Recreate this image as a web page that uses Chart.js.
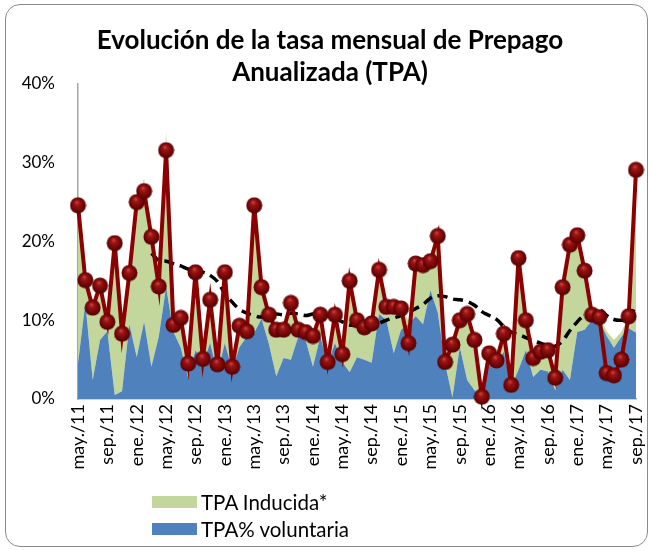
<!DOCTYPE html>
<html lang="es">
<head>
  <meta charset="UTF-8">
  <title>Evolución de la tasa mensual de Prepago Anualizada (TPA)</title>
  <style>
    body {
      margin: 0;
      width: 651px;
      height: 550px;
      overflow: hidden;
      background: #fff;
      font-family: Lato, "Open Sans", sans-serif;
      position: relative;
    }
    .frame {
      position: absolute;
      left: 5px;
      top: 4px;
      width: 641px;
      height: 541px;
      border: 1px solid #8a8a8a;
      border-radius: 15px;
    }
    .chart-box {
      position: absolute;
      left: 0;
      top: 0;
      width: 651px;
      height: 550px;
    }
    .title {
      position: absolute;
      left: 0;
      width: 660px;
      top: 23px;
      text-align: center;
      font-weight: bold;
      font-size: 26px;
      line-height: 32px;
      color: #000;
    }
    .legend {
      position: absolute;
      left: 152px;
      top: 488px;
      font-size: 20.5px;
      color: #000;
    }
    .legend-item {
      display: flex;
      align-items: center;
      height: 27px;
    }
    .swatch {
      width: 45px;
      height: 12px;
      margin-right: 4px;
    }
  </style>
  <script src="https://cdn.jsdelivr.net/npm/chart.js"></script>
</head>
<body>
  <div class="frame"></div>
  <div class="chart-box"><canvas id="tpaChart" width="651" height="550"></canvas></div>
  <div class="title">Evolución de la tasa mensual de Prepago<br>Anualizada (TPA)</div>
  <div class="legend">
    <div class="legend-item"><span class="swatch" style="background:#c3d69b"></span>TPA Inducida*</div>
    <div class="legend-item"><span class="swatch" style="background:#4f81bd"></span>TPA% voluntaria</div>
  </div>

  <script>
    // months, may./11 .. sep./17
    const months = [
      'may./11', 'jun./11', 'jul./11', 'ago./11', 'sep./11', 'oct./11', 'nov./11', 'dic./11',
      'ene./12', 'feb./12', 'mar./12', 'abr./12', 'may./12', 'jun./12', 'jul./12', 'ago./12', 'sep./12', 'oct./12', 'nov./12', 'dic./12',
      'ene./13', 'feb./13', 'mar./13', 'abr./13', 'may./13', 'jun./13', 'jul./13', 'ago./13', 'sep./13', 'oct./13', 'nov./13', 'dic./13',
      'ene./14', 'feb./14', 'mar./14', 'abr./14', 'may./14', 'jun./14', 'jul./14', 'ago./14', 'sep./14', 'oct./14', 'nov./14', 'dic./14',
      'ene./15', 'feb./15', 'mar./15', 'abr./15', 'may./15', 'jun./15', 'jul./15', 'ago./15', 'sep./15', 'oct./15', 'nov./15', 'dic./15',
      'ene./16', 'feb./16', 'mar./16', 'abr./16', 'may./16', 'jun./16', 'jul./16', 'ago./16', 'sep./16', 'oct./16', 'nov./16', 'dic./16',
      'ene./17', 'feb./17', 'mar./17', 'abr./17', 'may./17', 'jun./17', 'jul./17', 'ago./17', 'sep./17'
    ];

    // values in %
    const tpaVoluntaria = [
      4.5, 12.2, 2.4, 7.5, 8.6, 0.5, 1.0, 9.5, 5.3, 9.8, 4.1, 7.9,
      14.2, 8.5, 6.5, 2.7, 6.2, 4.5, 7.1, 3.3, 7.1, 3.7, 6.6, 7.9,
      8.4, 10.2, 7.0, 2.9, 5.2, 5.0, 7.9, 7.5, 4.1, 7.9, 4.5, 7.1,
      4.7, 3.4, 5.3, 5.0, 4.6, 10.8, 10.0, 5.8, 8.8, 9.5, 10.5, 9.5,
      13.8, 11.0, 4.5, 0.2, 6.6, 2.4, 1.1, 0.2, 5.0, 4.4, 6.0, 1.5,
      3.7, 6.2, 2.8, 3.7, 3.5, 1.1, 3.7, 2.4, 8.5, 8.8, 10.0, 10.0,
      8.0, 6.5, 7.9, 9.0, 8.4
    ];

    const tpaInducida = [
      22.0, 2.9, 9.2, 6.9, 1.2, 19.3, 7.3, 6.5, 19.7, 18.2, 16.5, 6.4,
      19.8, 0.9, 3.8, 1.8, 9.9, 0.6, 5.5, 1.1, 9.0, 0.4, 2.7, 0.7,
      16.2, 4.0, 3.7, 5.9, 3.6, 7.2, 0.9, 1.0, 3.9, 2.8, 0.2, 3.6,
      1.0, 11.6, 4.7, 4.1, 5.0, 5.6, 1.7, 5.9, 2.7, 0.5, 6.7, 7.5,
      3.7, 9.7, 0.2, 6.7, 3.4, 8.4, 6.4, 0.3, 0.8, 0.5, 2.3, 0.3,
      14.2, 3.8, 2.4, 2.3, 2.7, 1.6, 10.5, 17.2, 12.3, 7.5, 0.7, 0.4,
      0.6, 1.0, 0.6, 1.5, 20.7
    ];

    const tpaTotal = [
      24.6, 15.1, 11.6, 14.4, 9.8, 19.8, 8.3, 16.0, 25.0, 26.4, 20.6, 14.3,
      31.6, 9.4, 10.3, 4.5, 16.1, 5.1, 12.6, 4.4, 16.1, 4.1, 9.3, 8.6,
      24.6, 14.2, 10.7, 8.8, 8.8, 12.2, 8.8, 8.5, 8.0, 10.7, 4.7, 10.7,
      5.7, 15.0, 10.0, 9.1, 9.6, 16.4, 11.7, 11.7, 11.5, 7.1, 17.2, 17.0,
      17.5, 20.7, 4.7, 6.9, 10.0, 10.8, 7.5, 0.3, 5.8, 4.9, 8.3, 1.8,
      17.9, 10.0, 5.2, 6.0, 6.2, 2.7, 14.2, 19.6, 20.8, 16.3, 10.7, 10.4,
      3.3, 3.0, 5.0, 10.5, 29.1
    ];

    // dashed trend line, starts in mar./12
    const tpaMedia = [
      null, null, null, null, null, null, null, null, null, null,
      18.5, 17.6, 17.5, 17.2, 16.9, 16.5, 16.4, 16.1, 15.7, 14.9,
      13.4, 12.3, 11.4, 10.9, 10.6, 10.4, 10.7, 10.8, 10.7, 10.9,
      10.8, 10.6, 10.8, 10.9, 10.6, 10.2, 9.8, 9.4, 9.4, 9.2,
      9.2, 9.6, 10.0, 10.3, 10.6, 11.0, 11.5, 12.0, 12.8, 13.1,
      13.0, 12.7, 12.6, 12.4, 11.9, 11.1, 10.6, 10.1, 9.2, 8.5,
      8.2, 7.8, 7.4, 7.1, 6.8, 6.7, 7.4, 8.7, 9.8, 10.7,
      11.2, 11.4, 10.6, 10.1, 10.0, 10.3, 12.0
    ];

    const yTicks = [0, 10, 20, 30, 40];

    // little shaded ball used as the marker
    function makeBall(size) {
      const c = document.createElement('canvas');
      c.width = size;
      c.height = size;
      const g = c.getContext('2d');
      const r = size / 2;
      const grad = g.createRadialGradient(r * 0.85, r * 0.6, 0, r, r, r);
      grad.addColorStop(0, '#d24a4a');
      grad.addColorStop(0.3, '#9a1414');
      grad.addColorStop(0.75, '#6e0404');
      grad.addColorStop(1, '#4a0000');
      g.fillStyle = grad;
      g.beginPath();
      g.arc(r, r, r - 0.5, 0, Math.PI * 2);
      g.fill();
      return c;
    }
    const ball = makeBall(17);

    const ctx = document.getElementById('tpaChart').getContext('2d');
    new Chart(ctx, {
      type: 'line',
      data: {
        labels: months,
        datasets: [
          {
            label: 'TPA% voluntaria',
            data: tpaVoluntaria,
            stack: 'area',
            backgroundColor: '#4f81bd',
            borderWidth: 0,
            pointRadius: 0,
            fill: 'origin',
            tension: 0,
            order: 2
          },
          {
            label: 'TPA Inducida*',
            data: tpaInducida,
            stack: 'area',
            backgroundColor: '#c3d69b',
            borderWidth: 0,
            pointRadius: 0,
            fill: '-1',
            tension: 0,
            order: 3
          },
          {
            label: 'Media',
            data: tpaMedia,
            stack: 'media',
            borderColor: '#000',
            borderWidth: 3.5,
            borderDash: [10, 6],
            pointRadius: 0,
            fill: false,
            tension: 0.4,
            order: 1
          },
          {
            label: 'TPA',
            data: tpaTotal,
            stack: 'tpa',
            borderColor: '#8b0000',
            borderWidth: 4,
            pointStyle: ball,
            pointRadius: 8,
            fill: false,
            tension: 0,
            clip: false,
            order: 0
          }
        ]
      },
      options: {
        responsive: false,
        animation: false,
        events: [],
        layout: {
          padding: { top: 84, right: 15, left: 0, bottom: 0 }
        },
        plugins: {
          legend: { display: false },
          title: { display: false },
          tooltip: { enabled: false }
        },
        scales: {
          x: {
            offset: false,
            grid: { drawOnChartArea: false, drawTicks: false },
            border: { display: true, color: '#a6a6a6', width: 1.5 },
            afterFit: scale => {
              scale.height = 151;
              scale.paddingLeft = 0;
              scale.paddingRight = 0;
            },
            ticks: {
              autoSkip: false,
              minRotation: 90,
              maxRotation: 90,
              padding: 5,
              color: '#000',
              font: { family: 'Lato', size: 18 },
              callback: (val, i) => (i % 4 === 0 ? months[i] : '')
            }
          },
          y: {
            stacked: true,
            min: 0,
            max: 40,
            grid: { drawOnChartArea: false, drawTicks: false },
            border: { display: true, color: '#a6a6a6', width: 1.5 },
            afterFit: scale => { scale.width = 78; },
            afterBuildTicks: scale => {
              scale.ticks = yTicks.map(v => ({ value: v }));
            },
            ticks: {
              padding: 23,
              color: '#000',
              font: { family: 'Lato', size: 17 },
              callback: v => v + '%'
            }
          }
        }
      }
    });
  </script>
</body>
</html>
